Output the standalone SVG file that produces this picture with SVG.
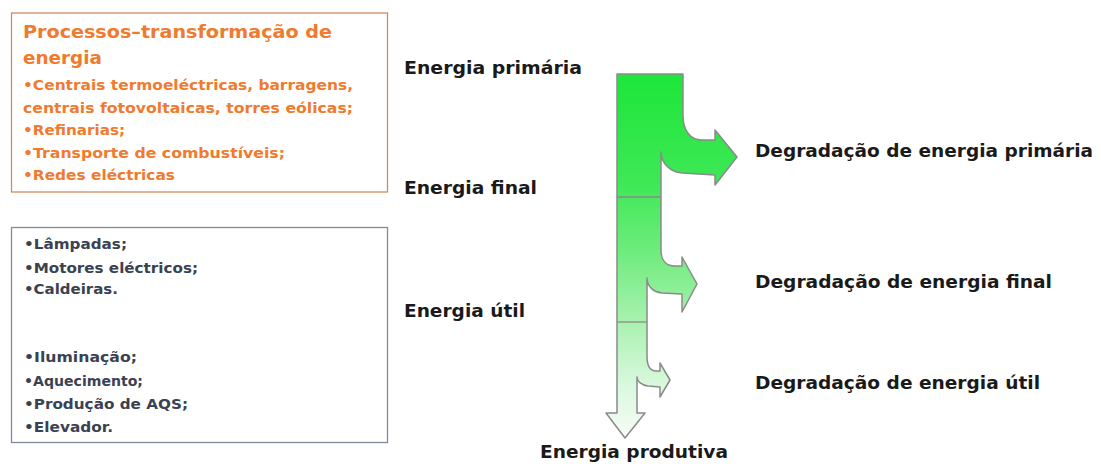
<svg xmlns="http://www.w3.org/2000/svg" width="1101" height="464" viewBox="0 0 1101 464">
<style>
text{font-family:"DejaVu Sans","Verdana",sans-serif;font-weight:bold}
.lbl{font-size:17px;fill:#1a1a1a}
.oh{font-size:17px;fill:#f07a2e}
.ob{font-size:14.5px;fill:#f07a2e}
.bb{font-size:14.5px;fill:#3a4252}
.flow{stroke:#8a8a8a;stroke-width:1.5;stroke-linejoin:round;fill:url(#g)}
.div{stroke:#8a8a8a;stroke-width:1.3;fill:none}
</style>
<defs>
<linearGradient id="g" gradientUnits="userSpaceOnUse" x1="0" y1="74" x2="0" y2="438">
<stop offset="0" stop-color="#1de63a"/>
<stop offset="0.3" stop-color="#3ee856"/>
<stop offset="0.5" stop-color="#72ec80"/>
<stop offset="0.7" stop-color="#aef2b5"/>
<stop offset="0.85" stop-color="#d8f8dc"/>
<stop offset="1" stop-color="#f6fdf6"/>
</linearGradient>
</defs>
<rect width="1101" height="464" fill="#ffffff"/>
<g id="box-processos">
<rect x="11.5" y="13" width="376" height="179" fill="#ffffff" stroke="#d28a60" stroke-width="1.3"/>
<text class="oh" x="23" y="38" textLength="309" lengthAdjust="spacingAndGlyphs">Processos–transformação de</text>
<text class="oh" x="23" y="64" textLength="79" lengthAdjust="spacingAndGlyphs">energia</text>
<text class="ob" x="23" y="90" textLength="330" lengthAdjust="spacingAndGlyphs">•Centrais termoeléctricas, barragens,</text>
<text class="ob" x="23" y="113" textLength="330" lengthAdjust="spacingAndGlyphs">centrais fotovoltaicas, torres eólicas;</text>
<text class="ob" x="23" y="135" textLength="102" lengthAdjust="spacingAndGlyphs">•Refinarias;</text>
<text class="ob" x="23" y="158" textLength="262" lengthAdjust="spacingAndGlyphs">•Transporte de combustíveis;</text>
<text class="ob" x="23" y="180" textLength="152" lengthAdjust="spacingAndGlyphs">•Redes eléctricas</text>
</g>
<g id="box-equipamentos">
<rect x="11.5" y="227.5" width="376" height="215" fill="#ffffff" stroke="#7f8b9a" stroke-width="1.3"/>
<text class="bb" x="24" y="249" textLength="103" lengthAdjust="spacingAndGlyphs">•Lâmpadas;</text>
<text class="bb" x="24" y="273" textLength="174" lengthAdjust="spacingAndGlyphs">•Motores eléctricos;</text>
<text class="bb" x="24" y="294" textLength="94" lengthAdjust="spacingAndGlyphs">•Caldeiras.</text>
<text class="bb" x="24" y="362" textLength="113" lengthAdjust="spacingAndGlyphs">•Iluminação;</text>
<text class="bb" x="24" y="386" textLength="119" lengthAdjust="spacingAndGlyphs">•Aquecimento;</text>
<text class="bb" x="24" y="409" textLength="164" lengthAdjust="spacingAndGlyphs">•Produção de AQS;</text>
<text class="bb" x="24" y="432" textLength="89" lengthAdjust="spacingAndGlyphs">•Elevador.</text>
</g>
<g id="connectors">
<path class="flow" d="M617,74 L683,74 L683,116 C683,130 690,140 702,140 L715,140 L715,130 L737,157 L715,185 L715,175 L682,173 C670,172 661,163 661,152 L661,250 C661,260 666,266 675,266 L682,266 L682,257 L697,284 L682,312 L682,294 L662,293 C653,292 647,286 647,278 L647,356 C647,366 650,371 656,371 L660,371 L660,363 L670,380 L660,397 L660,387 L648,386 C641,385 637,381 637,377 L637,413 L645,413 L625,438 L606,413 L617,413 Z"/>
<line class="div" x1="617" y1="197" x2="661" y2="197"/>
<line class="div" x1="617" y1="322" x2="647" y2="322"/>
</g>
<g id="labels">
<text class="lbl" x="404" y="74" textLength="178" lengthAdjust="spacingAndGlyphs">Energia primária</text>
<text class="lbl" x="404" y="194" textLength="133" lengthAdjust="spacingAndGlyphs">Energia final</text>
<text class="lbl" x="404" y="317" textLength="121" lengthAdjust="spacingAndGlyphs">Energia útil</text>
<text class="lbl" x="540" y="458" textLength="188" lengthAdjust="spacingAndGlyphs">Energia produtiva</text>
<text class="lbl" x="755" y="157" textLength="338" lengthAdjust="spacingAndGlyphs">Degradação de energia primária</text>
<text class="lbl" x="755" y="288" textLength="297" lengthAdjust="spacingAndGlyphs">Degradação de energia final</text>
<text class="lbl" x="755" y="389" textLength="285" lengthAdjust="spacingAndGlyphs">Degradação de energia útil</text>
</g>
</svg>
